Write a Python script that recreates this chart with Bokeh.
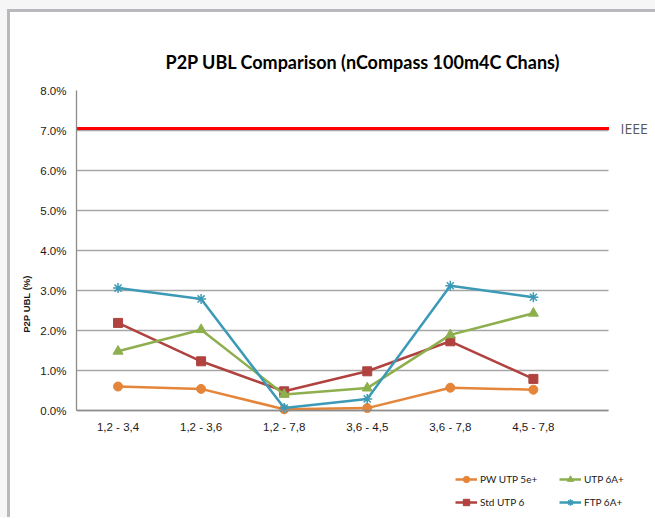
import numpy as np
from bokeh.plotting import figure
from bokeh.models import (Range1d, FixedTicker, Legend, LegendItem, Label,
                          PrintfTickFormatter, ColumnDataSource)
from bokeh.embed import file_html
from bokeh.resources import INLINE

categories = ["1,2 - 3,4", "1,2 - 3,6", "1,2 - 7,8", "3,6 - 4,5", "3,6 - 7,8", "4,5 - 7,8"]
pw_utp_5e = [0.60, 0.54, 0.03, 0.06, 0.57, 0.52]
std_utp_6 = [2.19, 1.23, 0.48, 0.98, 1.73, 0.79]
utp_6a = [1.48, 2.02, 0.40, 0.56, 1.89, 2.43]
ftp_6a = [3.06, 2.79, 0.06, 0.29, 3.12, 2.83]
ieee_limit = 7.05
ieee_label = "IEEE"
y_ticks = [0, 1, 2, 3, 4, 5, 6, 7, 8]

title_text = "P2P UBL Comparison (nCompass 100m4C Chans)"
y_label = "P2P UBL (%)"

x = np.arange(len(categories)) + 0.5
grid_end = 6.41          # right end of the plotting area (category units)
view_end = 6.97          # canvas right edge (category units)

p = figure(width=655, height=517, output_backend="svg", toolbar_location=None,
           x_range=Range1d(0, view_end), y_range=Range1d(-2.675, 8),
           min_border_left=76, min_border_right=0, min_border_top=90, min_border_bottom=0)
p.outline_line_color = None
p.background_fill_color = "white"
p.border_fill_color = None
p.border_fill_alpha = 0
# chart-area frame (grey border at left/top, light backdrop outside it)
frame_col = "#B9B9BD"
p.styles = {
    "background-color": "white",
    "background-image": (f"linear-gradient({frame_col}, {frame_col}), "
                         f"linear-gradient({frame_col}, {frame_col}), "
                         "linear-gradient(#F6F6F6, #F6F6F6), "
                         "linear-gradient(#F6F6F6, #F6F6F6)"),
    "background-size": "3px 100%, 100% 3px, 7px 100%, 100% 9px",
    "background-position": "7px 9px, 7px 9px, 0 0, 0 0",
    "background-repeat": "no-repeat",
}

p.title.text = title_text
p.title.text_font = "Lato"
p.title.text_font_size = "18px"
p.title.text_font_style = "bold"
p.title.text_color = "#000000"
p.title.align = "left"
p.title.offset = 89
p.title.standoff = 36

p.xgrid.visible = False
yg = p.ygrid[0]
yg.grid_line_color = "#A6A6A6"
yg.grid_line_width = 1.3
yg.ticker = FixedTicker(ticks=y_ticks)
yg.bounds = (y_ticks[0], y_ticks[-1])
if "cross_bounds" in yg.properties():
    yg.cross_bounds = (0, grid_end)

p.yaxis.ticker = FixedTicker(ticks=y_ticks)
p.yaxis.formatter = PrintfTickFormatter(format="%.1f%%")
p.yaxis.bounds = (y_ticks[0], y_ticks[-1])
p.xaxis.ticker = FixedTicker(ticks=list(x))
p.xaxis.major_label_overrides = {float(xi): c for xi, c in zip(x, categories)}
p.xaxis.fixed_location = 0
p.xaxis.bounds = (0, grid_end)

for ax in (p.xaxis, p.yaxis):
    ax.major_tick_line_color = None
    ax.minor_tick_line_color = None
    ax.major_tick_out = 0
    ax.major_tick_in = 0
    ax.axis_line_color = "#8C8C8C"
    ax.axis_line_width = 1.3
    ax.major_label_text_font = "Liberation Sans"
    ax.major_label_text_font_size = "11.5px"
    ax.major_label_text_color = "#1a1a1a"
p.yaxis.major_label_standoff = 10
p.xaxis.major_label_standoff = 10
p.yaxis.axis_label = y_label
p.yaxis.axis_label_text_font = "Liberation Sans"
p.yaxis.axis_label_text_font_size = "9.5px"
p.yaxis.axis_label_text_font_style = "bold"
p.yaxis.axis_label_text_color = "#1a1a1a"
p.yaxis.axis_label_standoff = 5

# IEEE limit line and its label
p.segment(x0=0, x1=grid_end, y0=ieee_limit, y1=ieee_limit, line_color="#FF0000", line_width=3)
p.add_layout(Label(x=6.55, y=ieee_limit, text=ieee_label, text_font="Open Sans",
                   text_font_size="14px", text_color="#595959", text_baseline="middle"))

series = [
    ("PW UTP 5e+", pw_utp_5e, "#E5853A", "circle", 9),
    ("Std UTP 6", std_utp_6, "#B0423F", "square", 9),
    ("UTP 6A+", utp_6a, "#8DAF4D", "triangle", 10),
    ("FTP 6A+", ftp_6a, "#3C9AB6", "asterisk", 10),
]
renderers = {}
for name, vals, col, mk, sz in series:
    src = ColumnDataSource(dict(x=x, y=vals))
    l = p.line("x", "y", source=src, line_color=col, line_width=2.5)
    m = p.scatter("x", "y", source=src, marker=mk, size=sz, fill_color=col, line_color=col,
                  line_width=1.5 if mk == "asterisk" else 1)
    renderers[name] = [l, m]

def mk_legend(names, loc):
    lg = Legend(items=[LegendItem(label=n, renderers=renderers[n]) for n in names],
                location=loc, orientation="vertical", padding=0, margin=0, spacing=7,
                glyph_width=22, glyph_height=16, label_height=16, label_standoff=3,
                label_text_font="Lato", label_text_font_size="10px",
                label_text_color="#1a1a1a", border_line_color=None,
                background_fill_alpha=0)
    p.add_layout(lg, "center")

mk_legend(["PW UTP 5e+", "Std UTP 6"], (379, 7))
mk_legend(["UTP 6A+", "FTP 6A+"], (483, 7))

open("out.html", "w").write(file_html(p, INLINE))
